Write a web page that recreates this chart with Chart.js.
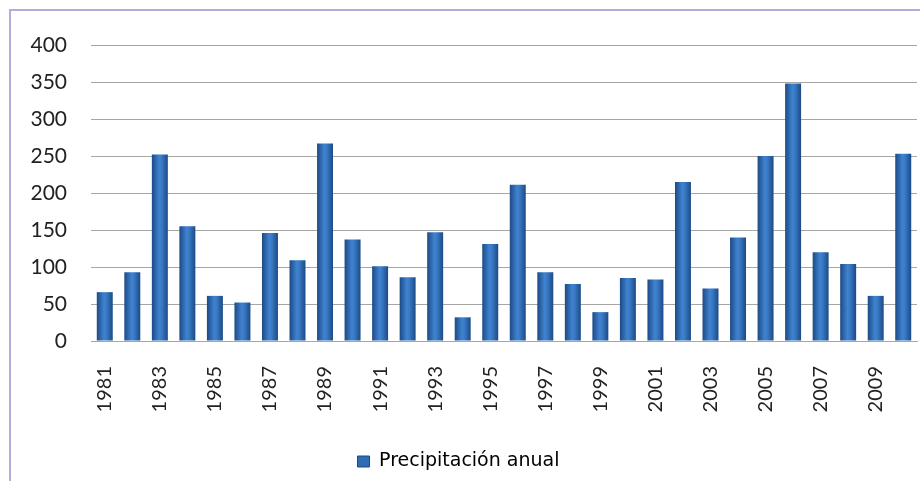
<!DOCTYPE html>
<html>
<head>
<meta charset="utf-8">
<script src="https://cdn.jsdelivr.net/npm/chart.js@4"></script>
<style>
  html, body { margin: 0; padding: 0; background: #fff; }
  #wrap { position: relative; width: 920px; height: 481px; }
  #frame { position: absolute; left: 9px; top: 9px; right: -4px; bottom: -4px;
           border: 2px solid #b9aadb; box-sizing: border-box; }
  canvas { position: absolute; left: 0; top: 0; }
</style>
</head>
<body>
<div id="wrap">
  <div id="frame"></div>
  <canvas id="rainChart" width="920" height="481"></canvas>
</div>
<script>
const years = [];
for (let y = 1981; y <= 2010; y++) years.push(String(y));

const rainfall = [66, 93, 252, 155, 61, 52, 146, 109, 267, 137,
                  101, 86, 147, 32, 131, 211, 93, 77, 39, 85,
                  83, 215, 71, 140, 250, 348, 120, 104, 61, 253];

const yTicks = [0, 50, 100, 150, 200, 250, 300, 350, 400];

const FONT = 'Lato, "Open Sans", sans-serif';

function barFill(context) {
  const chart = context.chart;
  const x = chart.scales.x;
  if (!chart.chartArea || !x || context.dataIndex === undefined) return '#2e6cb3';
  const center = x.getPixelForValue(context.dataIndex);
  const half = (x.width / years.length) * 0.58 / 2;
  const g = chart.ctx.createLinearGradient(center - half, 0, center + half, 0);
  g.addColorStop(0, '#1c4a86');
  g.addColorStop(0.45, '#3f82cf');
  g.addColorStop(0.6, '#3a7bc6');
  g.addColorStop(1, '#1c4a86');
  return g;
}

const ctx = document.getElementById('rainChart').getContext('2d');

new Chart(ctx, {
  type: 'bar',
  data: {
    labels: years,
    datasets: [{
      label: 'Precipitación anual',
      data: rainfall,
      backgroundColor: barFill,
      borderWidth: 0,
      categoryPercentage: 1,
      barPercentage: 0.58
    }]
  },
  options: {
    responsive: false,
    animation: false,
    layout: { padding: { top: 45, right: 3, left: 0, bottom: 0 } },
    plugins: {
      tooltip: { enabled: false },
      legend: {
        position: 'bottom',
        labels: {
          font: { family: '"DejaVu Sans", sans-serif', size: 19 },
          color: '#333',
          boxWidth: 12,
          boxHeight: 11,
          padding: 8,
          generateLabels: chart => [{
            text: 'Precipitación anual',
            fillStyle: '#2e6cb3',
            strokeStyle: '#1c4a86',
            lineWidth: 1,
            datasetIndex: 0
          }]
        }
      }
    },
    scales: {
      x: {
        grid: { display: false, drawTicks: false },
        border: { color: '#a6a6a6' },
        ticks: {
          autoSkip: false,
          maxRotation: 90,
          minRotation: 90,
          padding: 25,
          color: '#222',
          font: { family: FONT, size: 20 },
          callback: (v, i) => (i % 2 === 0 ? years[i] : '')
        },
        afterFit: scale => {
          scale.height = 103;
          scale.paddingLeft = 0;
          scale.paddingRight = 0;
        }
      },
      y: {
        min: 0,
        max: 400,
        afterBuildTicks: scale => { scale.ticks = yTicks.map(v => ({ value: v })); },
        grid: { color: '#a6a6a6', drawTicks: false, lineWidth: 1 },
        border: { display: false },
        ticks: {
          padding: 24,
          color: '#222',
          font: { family: FONT, size: 21 }
        },
        afterFit: scale => { scale.width = 91; }
      }
    }
  }
});
</script>
</body>
</html>
